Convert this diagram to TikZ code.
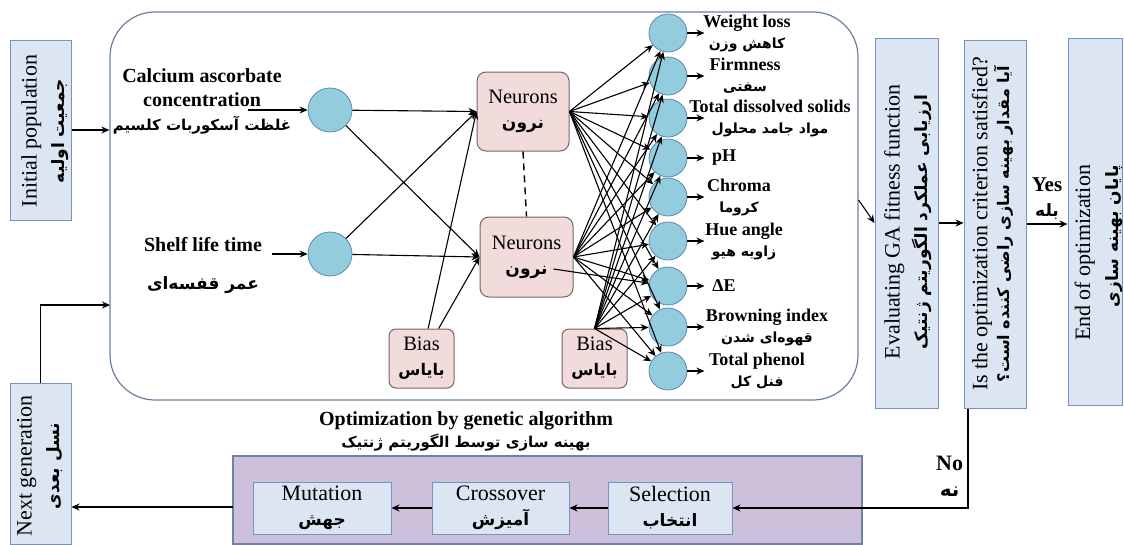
\documentclass[tikz,border=0pt]{standalone}
\usepackage{fontspec}
\setmainfont{Liberation Serif}
\newfontfamily\persfont[Script=Arabic]{DejaVu Sans}
\TeXXeTstate=1
\usetikzlibrary{positioning,arrows.meta,calc}
\definecolor{boxblue}{HTML}{DCE6F2}
\definecolor{boxline}{HTML}{7493C0}
\definecolor{frameline}{HTML}{6A7FA0}
\definecolor{gafill}{HTML}{CCC0DA}
\definecolor{galine}{HTML}{7080A8}
\definecolor{nrnfill}{HTML}{F2DCDB}
\definecolor{nrnline}{HTML}{7A6464}
\definecolor{cellfill}{HTML}{93CDDD}
\definecolor{cellline}{HTML}{5B87B5}
\newcommand\fsz[2]{\fontsize{#1}{#2}\selectfont}
\newcommand\fatxt[2][16]{{\persfont\bfseries\fontsize{#1}{#1}\selectfont\beginR #2\endR}}

\begin{document}
\begin{tikzpicture}[x=1pt,y=-1pt,>={Stealth[length=8pt,width=7pt]},
  wire/.style={->,line width=1.1pt},
  vbox/.style={draw=boxline,fill=boxblue,line width=1pt,inner sep=0pt},
  hbox/.style={vbox,align=center,minimum height=52pt,font=\fsz{22}{25}},
  vtext/.style={rotate=90,align=center,font=\fsz{22}{28}},
  frame/.style={draw=frameline,line width=1.2pt,rounded corners=45pt},
  gabox/.style={draw=galine,fill=gafill,line width=1.2pt},
  nrn/.style={draw=nrnline,fill=nrnfill,line width=1pt,rounded corners=9pt,align=center,inner sep=0pt,font=\fsz{20.5}{25}},
  cell/.style={circle,draw=cellline,fill=cellfill,line width=0.8pt,inner sep=0pt},
  inlbl/.style={align=center,font=\bfseries\fsz{20}{24}},
  outlbl/.style={align=center,font=\bfseries\fsz{18}{21}}]
  \useasboundingbox (0,0) rectangle (1124,544);

  % ---------------- network ----------------
  \node[frame,minimum width=748pt,minimum height=388pt] (ann) at (484,206) {};
  \node[inlbl] (calab) at (202,101) {Calcium ascorbate\\concentration\\\fatxt[15]{غلظت آسکوربات کلسیم}};
  \node[inlbl] (shlab) at (203,266) {Shelf life time\\[14pt]\fatxt[17]{عمر قفسه^^^^200cای}};
  \node[cell,minimum size=44pt] (in1) at (330,110) {};
  \node[cell,minimum size=44pt] (in2) at (330,254) {};
  \draw[wire] ([xshift=-60pt]in1.west) -- (in1.west);
  \draw[wire] ([xshift=-36pt]in2.west) -- (in2.west);

  \node[nrn,minimum width=92pt,minimum height=79pt] (n1) at (523,111.5) {Neurons\\\fatxt[17]{نرون}};
  \node[nrn,minimum width=93pt,minimum height=80pt] (n2) at (526.5,257) {Neurons\\\fatxt[17]{نرون}};
  \node[nrn,rounded corners=7pt,minimum width=65pt,minimum height=59pt] (b1) at (421.5,358.5) {Bias\\\fatxt{بایاس}};
  \node[nrn,rounded corners=7pt,minimum width=65pt,minimum height=59pt] (b2) at (594.5,358.5) {Bias\\\fatxt{بایاس}};
  \draw[dash pattern=on 7pt off 5pt,line width=1.4pt] (n1.south) -- (n2.north);

  \foreach \s in {in1,in2,b1}{
    \draw[wire] (\s) -- (n1.west);
    \draw[wire] (\s) -- (n2.west);
  }

  \foreach \y/\x/\en/\pr [count=\k] in {33/747/Weight loss/کاهش وزن,76/745/Firmness/سفتی,
      118/770/Total dissolved solids/مواد جامد محلول,158/724/pH/,197/739/Chroma/کروما,
      241/744/Hue angle/زاویه هیو,286/724/ΔE/,327/767/Browning index/قهوه^^^^200cای شدن,
      371/757/Total phenol/فنل کل}{
    \node[cell,minimum size=38pt] (o\k) at (668,\y) {};
    \draw[wire] (o\k.east) -- ++(17,0);
    \node[outlbl] (lab\k) at (\x,\y) {\en\ifx\pr\empty\else\\\fatxt[14]{\pr}\fi};
  }
  \foreach \s in {n1.east,n2.east,b2.north}
    \foreach \k in {1,...,9} \draw[wire] (\s) -- (o\k);
  \draw[wire] ($(n2)+(27,12)$) -- (o7);

  % ---------------- left column ----------------
  \node[vbox,minimum width=61pt,minimum height=180pt] (init) at (40.5,130) {};
  \node[vtext] at (45,131) {Initial population\\\fatxt[17]{جمعیت اولیه}};
  \node[vbox,minimum width=61pt,minimum height=161pt] (nextg) at (40.5,463.5) {};
  \node[vtext] at (40,466) {Next generation\\\fatxt[17]{نسل بعدی}};
  \coordinate (loopin) at (110,305);
  \draw[wire] (init.east) -- (init.east -| ann.west);
  \draw[wire] (nextg.north) |- (loopin);

  % ---------------- right column ----------------
  \node[vbox,minimum width=63pt,minimum height=370pt] (eval) at (906.5,223) {};
  \node[vtext] at (908,222) {Evaluating GA fitness function\\\fatxt[17]{ارزیابی عملکرد الگوریتم ژنتیک}};
  \node[vbox,minimum width=62pt,minimum height=368pt] (crit) at (995,224) {};
  \node[vtext,font=\fsz{22}{22}] at (992.5,224) {Is the optimization criterion satisfied?\\\fatxt[16]{آیا مقدار بهینه سازی راضی کننده است؟}};
  \node[vbox,minimum width=54pt,minimum height=367pt] (endopt) at (1095,221.5) {};
  \node[vtext,align=right] at (1098.5,253) {End of optimization\\\fatxt[17]{پایان بهینه سازی}};
  \draw[wire] ([yshift=6pt]ann.east) -- (eval.west);
  \draw[wire] (eval) -- (eval -| crit.west);
  \draw[wire] (crit) -- node[above=1pt,align=center,font=\bfseries\fsz{21}{25}] {Yes\\\fatxt[17]{بله}} (crit -| endopt.west);

  % ---------------- genetic algorithm ----------------
  \node[gabox,minimum width=629pt,minimum height=88pt] (ga) at (547.5,500) {};
  \node[align=center,font=\bfseries\fsz{20}{22}] (gatitle) at (466,431) {Optimization by genetic algorithm\\\fatxt[15]{بهینه سازی توسط الگوریتم ژنتیک}};
  \node[hbox,minimum width=124pt] (sel) at (670,508) {Selection\\\fatxt[17]{انتخاب}};
  \node[hbox,minimum width=137pt] (cross) at (500.5,508) {Crossover\\\fatxt[17]{آمیزش}};
  \node[hbox,minimum width=138pt] (mut) at (322,508) {Mutation\\\fatxt[17]{جهش}};
  \draw[wire] (sel) -- (cross);
  \draw[wire] (cross) -- (mut);
  \coordinate (gaout) at (233,507);
  \draw[wire] (gaout) -- (gaout -| nextg.east);
  \coordinate (nolt) at (968,508);
  \draw[wire] (crit.south -| nolt) -- node[left=1pt,pos=0.68,align=center,font=\bfseries\fsz{22}{26}] {No\\\fatxt[20]{نه}} (nolt) -- (sel.east);
\end{tikzpicture}
\end{document}
